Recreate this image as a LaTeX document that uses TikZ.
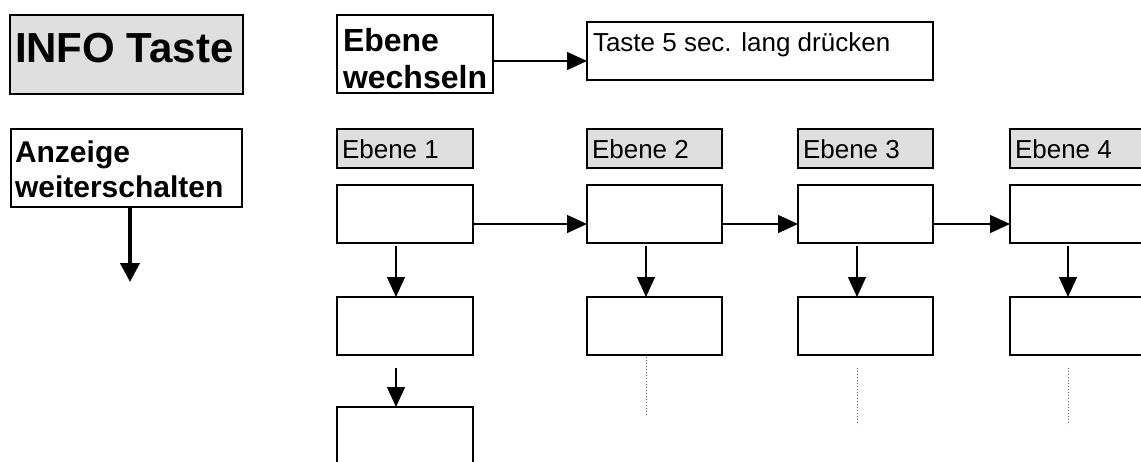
\documentclass[tikz,border=0pt]{standalone}
\usepackage{fontspec}
\setmainfont{Liberation Sans}
\usetikzlibrary{arrows.meta}
\begin{document}
\begin{tikzpicture}[x=1pt,y=-1pt,
  box/.style={draw, line width=2.3pt, fill=white, inner sep=0pt, outer sep=0pt, anchor=north west},
  levelbox/.style={box, fill=gray!25, line width=2pt, minimum width=135pt, minimum height=39pt},
  stagebox/.style={box, line width=2.5pt, minimum width=135pt, minimum height=58pt},
  txt/.style={anchor=base west, inner sep=0pt, outer sep=0pt},
  plaintext/.style={txt, font=\fontsize{26}{30}\selectfont},
  boldtext/.style={txt, font=\bfseries\fontsize{32}{37}\selectfont},
  flow/.style={line width=1.4pt, -{Triangle[length=20pt,width=18pt]}},
  bigflow/.style={line width=4pt, -{Triangle[length=19pt,width=19pt]}},
  trail/.style={draw=gray!80!black, dotted, line width=1pt}]
\path[use as bounding box, clip] (0,0) rectangle (1141,461);

% key legend on the left
\node[box, fill=gray!25, minimum width=233pt, minimum height=79pt] (info) at (10,15) {};
\node[txt, font=\bfseries\fontsize{42}{48}\selectfont] (infotext) at (15,62) {INFO Taste};

\node[box, line width=2pt, minimum width=231pt, minimum height=78pt] (next) at (11,129) {};
\node[boldtext, font=\bfseries\fontsize{30}{35}\selectfont] (nexta) at (15,162) {Anzeige};
\node[boldtext, font=\bfseries\fontsize{30}{35}\selectfont] (nextb) at (15,197) {weiterschalten};
\coordinate (nextend) at (130,282);
\draw[bigflow] ([xshift=3.5pt]next.south) -- (nextend);

% switching levels
\node[box, line width=2pt, minimum width=156pt, minimum height=78pt] (switch) at (337,15) {};
\node[boldtext] (switcha) at (343,51) {Ebene};
\node[boldtext] (switchb) at (343,88) {wechseln};
\node[box, line width=1.8pt, minimum width=346pt, minimum height=58pt] (hold) at (587,22) {};
\node[plaintext] (holdtext) at (593,51) {Taste 5 sec. lang drücken};
\draw[flow] ([yshift=-7pt]switch.east) -- ([yshift=-10pt]hold.west);

% level headers
\node[levelbox, minimum width=136pt] (lab1) at (337,129) {};
\node[levelbox] (lab2) at (587,129) {};
\node[levelbox] (lab3) at (798,129) {};
\node[levelbox] (lab4) at (1010,129) {};
\node[plaintext] (lab1t) at (342,158) {Ebene 1};
\node[plaintext] (lab2t) at (592,158) {Ebene 2};
\node[plaintext] (lab3t) at (803,158) {Ebene 3};
\node[plaintext] (lab4t) at (1015,158) {Ebene 4};

% display stages per level
\node[stagebox, minimum width=136pt] (b11) at (337,185) {};
\node[stagebox, minimum width=136pt] (b12) at (337,297) {};
\node[stagebox, minimum width=136pt] (b13) at (337,407) {};
\node[stagebox] (b21) at (587,185) {};
\node[stagebox] (b22) at (587,297) {};
\node[stagebox] (b31) at (798,185) {};
\node[stagebox] (b32) at (798,297) {};
\node[stagebox] (b41) at (1010,185) {};
\node[stagebox] (b42) at (1010,297) {};

% level to level
\draw[flow] ([yshift=-10pt]b11.east) -- ([yshift=-10pt]b21.west);
\draw[flow] ([yshift=-10pt]b21.east) -- ([yshift=-10pt]b31.west);
\draw[flow] ([yshift=-10pt]b31.east) -- ([yshift=-10pt]b41.west);

% stepping down within a level
\draw[flow] ([xshift=-9pt,yshift=-3pt]b11.south) -- ([xshift=-9pt]b12.north);
\draw[flow] ([xshift=-9pt,yshift=-13pt]b12.south) -- ([xshift=-9pt]b13.north);
\draw[flow] ([xshift=-8.5pt,yshift=-3pt]b21.south) -- ([xshift=-8.5pt]b22.north);
\draw[flow] ([xshift=-8.5pt,yshift=-3pt]b31.south) -- ([xshift=-8.5pt]b32.north);
\draw[flow] ([xshift=-9.5pt,yshift=-3pt]b41.south) -- ([xshift=-9.5pt]b42.north);

% continuation hints
\coordinate (d2) at (646,415);
\coordinate (d3) at (857,425);
\coordinate (d4) at (1068,425);
\draw[trail] ([xshift=-8.5pt,yshift=-2pt]b22.south) -- (d2);
\draw[trail] ([xshift=-8.5pt,yshift=-13pt]b32.south) -- (d3);
\draw[trail] ([xshift=-9.5pt,yshift=-13pt]b42.south) -- (d4);
\end{tikzpicture}
\end{document}
